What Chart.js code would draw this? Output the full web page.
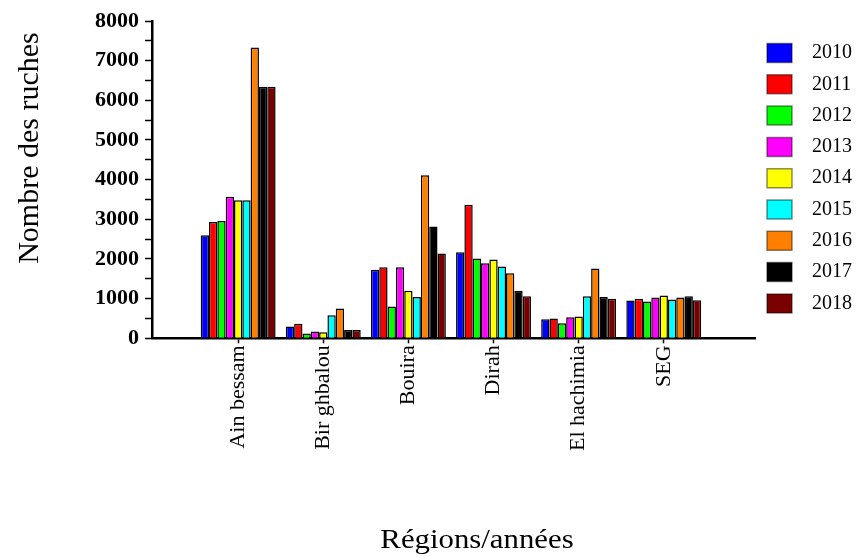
<!DOCTYPE html>
<html>
<head>
<meta charset="utf-8">
<script src="https://cdn.jsdelivr.net/npm/chart.js@4.4.1/dist/chart.umd.min.js"></script>
<style>
  body { margin: 0; background: #fff; }
  #wrap { width: 862px; height: 557px; }
</style>
</head>
<body>
<div id="wrap"><canvas id="chart1"></canvas></div>
<script>
// regions (x axis) and years (one series per year)
let regions = ['Ain bessam', 'Bir ghbalou', 'Bouira', 'Dirah', 'El hachimia', 'SEG'];
let years = ['2010', '2011', '2012', '2013', '2014', '2015', '2016', '2017', '2018'];

let v2010 = [2600, 300, 1730, 2170, 480, 955];
let v2011 = [2930, 370, 1790, 3370, 500, 1000];
let v2012 = [2960, 120, 800, 2010, 380, 930];
let v2013 = [3570, 170, 1790, 1890, 530, 1030];
let v2014 = [3480, 150, 1200, 1990, 550, 1080];
let v2015 = [3480, 580, 1040, 1810, 1060, 980];
let v2016 = [7330, 750, 4110, 1640, 1760, 1030];
let v2017 = [6340, 210, 2820, 1200, 1040, 1060];
let v2018 = [6340, 210, 2140, 1060, 1000, 960];

let yTicks = [0, 1000, 2000, 3000, 4000, 5000, 6000, 7000, 8000];

let xTitle = 'Régions/années';
let yTitle = 'Nombre des ruches';

let seriesValues = [v2010, v2011, v2012, v2013, v2014, v2015, v2016, v2017, v2018];
let colors = ['#0000ff', '#ff0000', '#00ff00', '#ff00ff', '#ffff00', '#00ffff', '#ff7f00', '#000000', '#7a0000'];

let datasets = years.map((yr, k) => ({
    label: yr,
    data: seriesValues[k].map((v, i) => ({ x: i, y: v })),
    backgroundColor: colors[k],
    borderColor: '#000',
    borderWidth: 1.5,
    barPercentage: 1.0,
    categoryPercentage: 0.88
}));

// axis titles are drawn by hand so they sit where the original has them
let axisTitles = {
    id: 'axisTitles',
    afterDraw(chart) {
        let ctx = chart.ctx;
        ctx.save();
        ctx.fillStyle = '#000';
        ctx.textAlign = 'center';
        ctx.textBaseline = 'alphabetic';
        ctx.font = '28px "Liberation Serif"';
        ctx.translate(477, 548);
        ctx.scale(1.1, 1);
        ctx.fillText(xTitle, 0, 0);
        ctx.restore();

        ctx.save();
        ctx.fillStyle = '#000';
        ctx.textAlign = 'center';
        ctx.textBaseline = 'middle';
        ctx.font = '30px "Liberation Serif"';
        ctx.translate(30, 148);
        ctx.rotate(-Math.PI / 2);
        ctx.fillText(yTitle, 0, 0);
        ctx.restore();
    }
};

let inRange = v => v >= 0 && v < regions.length;

let ctx1 = document.getElementById('chart1').getContext('2d');

new Chart(ctx1, {
    type: 'bar',
    data: { datasets: datasets },
    plugins: [axisTitles],
    options: {
        responsive: true,
        maintainAspectRatio: false,
        animation: false,
        layout: { padding: { left: 89, top: 21, right: 0, bottom: 104 } },
        plugins: {
            tooltip: { enabled: false },
            legend: {
                position: 'right',
                align: 'start',
                title: { display: true, text: '', font: { size: 1 }, padding: { top: 9.5, bottom: 0 } },
                labels: {
                    color: '#000',
                    font: { family: '"Liberation Serif"', size: 20 },
                    boxWidth: 25,
                    boxHeight: 19,
                    padding: 11.3,
                    generateLabels(chart) {
                        return chart.data.datasets.map((ds, i) => ({
                            text: '  ' + ds.label,
                            fillStyle: ds.backgroundColor,
                            strokeStyle: 'rgba(0,0,0,0.45)',
                            fontColor: '#000',
                            lineWidth: 1.5,
                            datasetIndex: i,
                            hidden: false
                        }));
                    }
                }
            }
        },
        scales: {
            x: {
                type: 'linear',
                offset: false,
                min: -1.012,
                max: 6.08,
                border: { display: true, color: '#000', width: 2.5 },
                grid: {
                    offset: false,
                    drawOnChartArea: false,
                    drawTicks: true,
                    tickLength: 5,
                    tickWidth: 1.5,
                    tickColor: c => (c.tick && inRange(c.tick.value)) ? '#000' : 'rgba(0,0,0,0)'
                },
                ticks: {
                    stepSize: 1,
                    includeBounds: false,
                    autoSkip: false,
                    minRotation: 90,
                    maxRotation: 90,
                    padding: 2,
                    color: '#000',
                    font: { family: '"Liberation Serif"', size: 22 },
                    callback: v => inRange(v) ? regions[v] : ''
                }
            },
            y: {
                min: 0,
                max: 8000,
                border: { display: true, color: '#000', width: 2.5 },
                grid: {
                    drawOnChartArea: false,
                    drawTicks: true,
                    tickLength: 7,
                    tickWidth: 1.5,
                    tickColor: '#000'
                },
                ticks: {
                    stepSize: 500,
                    autoSkip: false,
                    padding: 6,
                    color: '#000',
                    font: { family: '"Liberation Serif"', size: 22, weight: 'bold' },
                    callback: v => yTicks.includes(v) ? String(v) : ''
                }
            }
        }
    }
});
</script>
</body>
</html>
